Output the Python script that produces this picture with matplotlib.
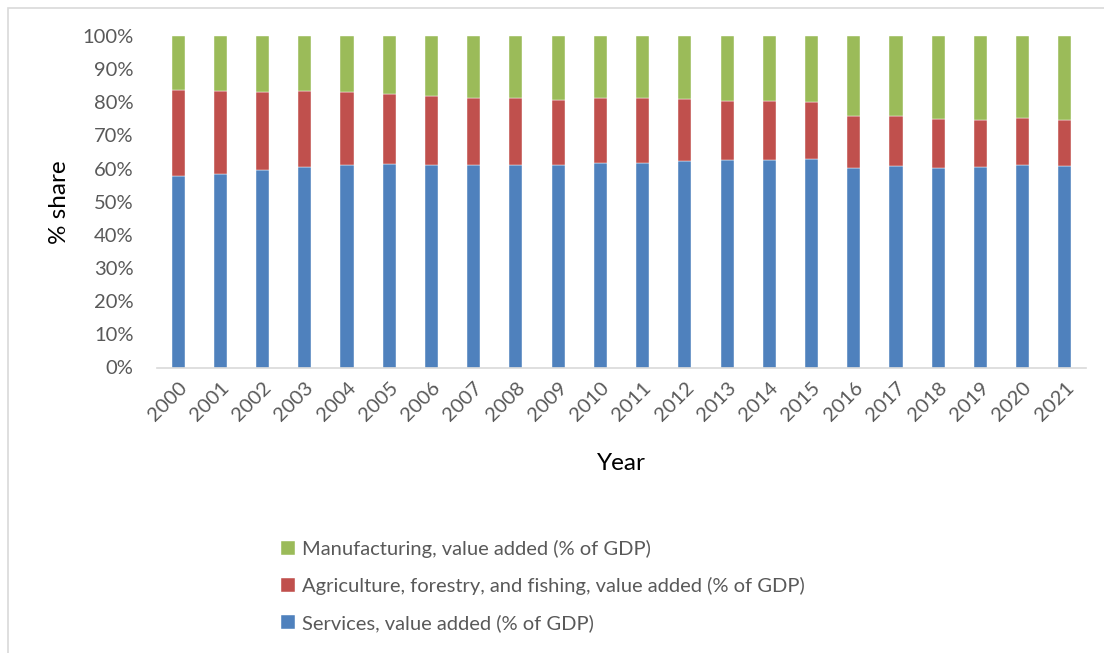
import matplotlib
matplotlib.use("Agg")
import matplotlib.pyplot as plt
from matplotlib.patches import Rectangle
from matplotlib.ticker import FuncFormatter, MultipleLocator

years = [str(y) for y in range(2000, 2022)]
services = [57.9, 58.3, 59.5, 60.5, 61.0, 61.3, 61.1, 61.0, 61.0, 61.2, 61.6,
            61.6, 62.2, 62.5, 62.6, 62.8, 60.1, 60.7, 60.3, 60.4, 61.1, 60.9]
red_top = [83.8, 83.5, 83.2, 83.5, 83.2, 82.6, 82.0, 81.4, 81.2, 80.8, 81.3,
           81.3, 81.1, 80.5, 80.5, 80.2, 76.0, 76.0, 75.1, 74.6, 75.4, 74.6]
agriculture = [round(t - s, 1) for t, s in zip(red_top, services)]
manufacturing = [round(100 - t, 1) for t in red_top]

labels = ["Services, value added (% of GDP)",
          "Agriculture, forestry, and fishing, value added (% of GDP)",
          "Manufacturing, value added (% of GDP)"]
colors = ["#4F81BD", "#C0504D", "#9BBB59"]

plt.rcParams['font.family'] = ['Lato', 'DejaVu Sans']
W, H = 1104, 653
fig = plt.figure(figsize=(W / 100, H / 100), dpi=100)
ax = fig.add_axes([157 / W, 1 - 367.5 / H, (1086 - 157) / W, (367.5 - 36) / H])

x = list(range(len(years)))
bottom = [0] * len(years)
handles = []
for vals, col, lab in zip([services, agriculture, manufacturing], colors, labels):
    b = ax.bar(x, vals, bottom=bottom, width=0.31, color=col, label=lab,
               edgecolor='white', linewidth=0.3)
    handles.append(b)
    bottom = [bb + v for bb, v in zip(bottom, vals)]

ax.set_xlim(-0.5, len(years) - 0.5)
ax.set_ylim(0, 100)
ax.yaxis.set_major_locator(MultipleLocator(10))
ax.yaxis.set_major_formatter(FuncFormatter(lambda v, p: f"{int(round(v))}%"))
ax.set_xticks(x)
ax.set_xticklabels(years, rotation=45, ha='right', rotation_mode='anchor')
ax.tick_params(axis='both', length=0, labelsize=14.5, colors='#595959')
ax.tick_params(axis='y', pad=17)
ax.tick_params(axis='x', pad=8)
for s in ['top', 'right', 'left']:
    ax.spines[s].set_visible(False)
ax.spines['bottom'].set_color('#D9D9D9')
ax.spines['bottom'].set_linewidth(1.2)

fig.text(60 / W, 1 - 202 / H, "% share", rotation=90, ha='center', va='center',
         fontsize=17.5, color='black')
fig.text(621 / W, 1 - 463 / H, "Year", ha='center', va='center',
         fontsize=17.5, color='black')

leg = fig.legend(handles[::-1], labels[::-1], loc='upper left',
                 bbox_to_anchor=(263 / W, 1 - 522 / H), frameon=False,
                 fontsize=14.5, labelcolor='#595959', handlelength=0.7,
                 handleheight=0.7, handletextpad=0.35, labelspacing=0.95)

# chart area border
fig.add_artist(Rectangle((7.5 / W, -0.1), 1.5, 1 - 7.5 / H + 0.1,
                         transform=fig.transFigure, fill=False,
                         edgecolor='#D9D9D9', linewidth=1.2))

fig.savefig("out.png", dpi=100)
